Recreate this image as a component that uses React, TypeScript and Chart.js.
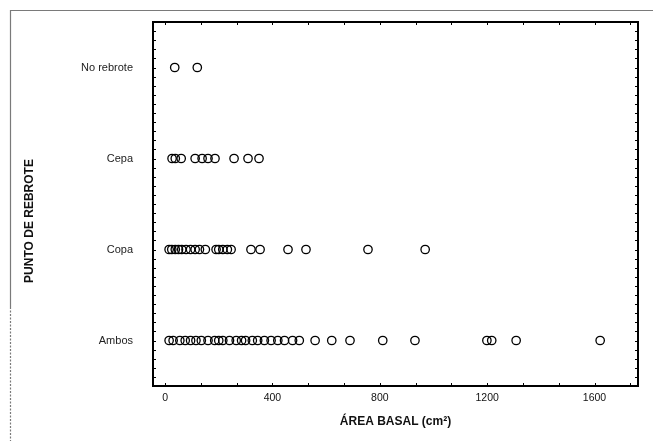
import React, { useEffect, useRef } from "react";
import { Chart, registerables } from "chart.js";

Chart.register(...registerables);

const categories = ["Ambos", "Copa", "Cepa", "No rebrote"];
const ambosValues = [15, 30, 55, 75, 95, 115, 135, 160, 185, 200, 215, 240, 265, 285, 300, 325, 345, 370, 395, 420, 445, 475, 500, 559, 621, 689, 811, 931, 1199, 1217, 1308, 1621];
const copaValues = [15, 25, 38, 50, 62, 78, 95, 112, 128, 150, 190, 200, 215, 232, 246, 320, 354, 458, 525, 756, 969];
const cepaValues = [26, 38, 60, 112, 138, 160, 186, 257, 309, 350];
const noRebroteValues = [36, 120];
const xTickValues = [0, 400, 800, 1200, 1600];
const xTitle = "ÁREA BASAL (cm²)";
const yTitle = "PUNTO DE REBROTE";

const seriesValues = [ambosValues, copaValues, cepaValues, noRebroteValues];

const framePlugin = {
  id: "framePlugin",
  afterDraw(chart: any) {
    const { ctx, chartArea } = chart;
    const { left, right, top, bottom } = chartArea;
    const xs = chart.scales.x;
    const ys = chart.scales.y;
    ctx.save();
    // outer gray border (scan frame)
    ctx.strokeStyle = "#7a7a7a";
    ctx.lineWidth = 1.2;
    ctx.beginPath();
    ctx.moveTo(653, 10.5);
    ctx.lineTo(10.5, 10.5);
    ctx.lineTo(10.5, 307);
    ctx.stroke();
    ctx.setLineDash([2, 1.5]);
    ctx.beginPath();
    ctx.moveTo(10.5, 307);
    ctx.lineTo(10.5, 441);
    ctx.stroke();
    ctx.setLineDash([]);

    // inner ticks
    ctx.strokeStyle = "#000";
    ctx.lineWidth = 1;
    ctx.beginPath();
    const stepX = 400 / 3;
    for (let v = 0; v <= xs.max; v += stepX) {
      const px = Math.round(xs.getPixelForValue(v)) + 0.5;
      if (px <= left + 1 || px >= right - 1) continue;
      ctx.moveTo(px, bottom);
      ctx.lineTo(px, bottom - 3);
      ctx.moveTo(px, top);
      ctx.lineTo(px, top + 3);
    }
    for (let i = 1; i < 40; i++) {
      const v = ys.min + i * 0.1;
      const py = Math.round(ys.getPixelForValue(v)) + 0.5;
      ctx.moveTo(left, py);
      ctx.lineTo(left + 3, py);
      ctx.moveTo(right, py);
      ctx.lineTo(right - 3, py);
    }
    ctx.stroke();

    // frame
    ctx.lineWidth = 2;
    ctx.strokeRect(left, top, right - left, bottom - top);

    // y-axis title
    ctx.translate(30, 221);
    ctx.rotate(-Math.PI / 2);
    ctx.fillStyle = "#111";
    ctx.font = "bold 12px 'Liberation Sans', Arial, sans-serif";
    ctx.textAlign = "center";
    ctx.textBaseline = "middle";
    ctx.fillText(yTitle, 0, 0);
    ctx.restore();
  },
};

export default function App() {
  const canvasRef = useRef<HTMLCanvasElement | null>(null);

  useEffect(() => {
    const canvas = canvasRef.current;
    if (!canvas) return;
    const datasets = categories.map((name, i) => ({
      label: name,
      data: seriesValues[i].map((v) => ({ x: v, y: i })),
      pointStyle: "circle",
      pointRadius: 4.2,
      pointBorderWidth: 1.3,
      pointBorderColor: "#000",
      pointBackgroundColor: "rgba(0,0,0,0)",
      showLine: false,
    }));
    const chart = new Chart(canvas, {
      type: "scatter",
      data: { datasets },
      options: {
        responsive: false,
        animation: false,
        devicePixelRatio: 1,
        layout: { padding: { left: 0, top: 22, right: 15, bottom: 0 } },
        plugins: {
          legend: { display: false },
          tooltip: { enabled: false },
          title: { display: false },
        },
        scales: {
          x: {
            type: "linear",
            min: -45,
            max: 1762,
            grid: { display: false, drawTicks: false },
            border: { display: false },
            afterBuildTicks: (scale: any) => {
              scale.ticks = xTickValues.map((v) => ({ value: v }));
            },
            afterFit: (scale: any) => {
              scale.height = 55;
              scale.paddingLeft = 0;
              scale.paddingRight = 0;
            },
            ticks: {
              padding: 6,
              color: "#111",
              maxRotation: 0,
              callback: (value: any) => String(value),
              font: { family: "'Liberation Sans Narrow', 'Liberation Sans', Arial, sans-serif", size: 10.5 },
            },
            title: {
              display: true,
              text: xTitle,
              color: "#111",
              padding: { top: 0, bottom: 12 },
              font: { family: "'Liberation Sans', Arial, sans-serif", size: 12, weight: "bold" },
            },
          },
          y: {
            type: "linear",
            min: -0.5,
            max: 3.5,
            grid: { display: false, drawTicks: false },
            border: { display: false },
            afterBuildTicks: (scale: any) => {
              scale.ticks = categories.map((_, i) => ({ value: i }));
            },
            afterFit: (scale: any) => {
              scale.width = 153;
              scale.paddingTop = 0;
              scale.paddingBottom = 0;
            },
            ticks: {
              padding: 20,
              color: "#222",
              callback: (value: any) => categories[Number(value)] ?? "",
              font: { family: "'Liberation Sans', Arial, sans-serif", size: 11 },
            },
            title: { display: false, text: yTitle },
          },
        },
      },
      plugins: [framePlugin],
    });
    return () => chart.destroy();
  }, []);

  return (
    <div style={{ position: "absolute", left: 0, top: 0, width: 653, height: 441, background: "#fff" }}>
      <canvas ref={canvasRef} width={653} height={441} />
    </div>
  );
}
